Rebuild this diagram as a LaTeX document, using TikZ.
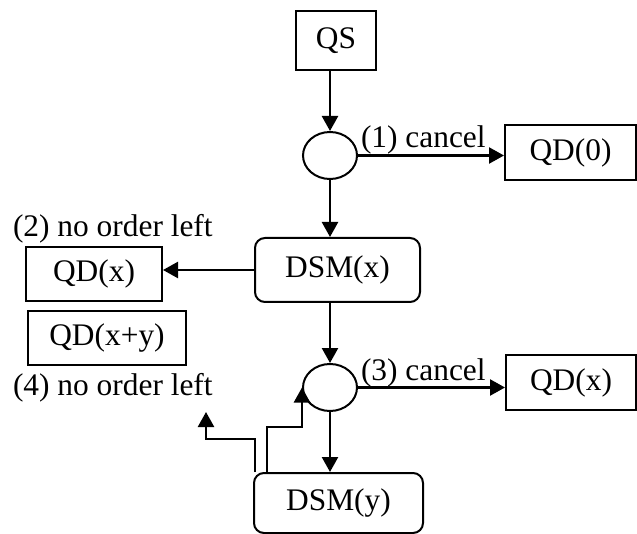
\documentclass[tikz,border=0pt]{standalone}
\usepackage{fontspec}
\setmainfont{Liberation Serif}
\usetikzlibrary{arrows.meta, shapes.geometric}

\begin{document}
\begin{tikzpicture}[
    x=0.5pt, y=-0.5pt,
    >={Triangle[length=7.5pt, width=8pt]},
    line width=1pt,
    font=\fontsize{15.7}{18}\selectfont,
    qbox/.style={rectangle, draw, inner sep=0pt},
    dsm/.style={rectangle, draw, rounded corners=5pt, inner sep=0pt},
    split/.style={ellipse, draw, minimum width=27pt, minimum height=23.5pt, inner sep=0pt},
    note/.style={anchor=base west, inner sep=0pt},
    flow/.style={->, line width=1.2pt}
]
    \useasboundingbox (0,0) rectangle (637,534);

    % --- Upper branch ---
    \node[qbox, minimum width=40pt, minimum height=29.5pt] (qs) at (336,40.5) {QS};
    \node[split] (dec1) at (330,155.5) {};
    \node[qbox, minimum width=65.5pt, minimum height=27.5pt] (qd0) at (570.5,152.5) {QD(0)};
    \node[dsm, minimum width=82.5pt, minimum height=32pt] (dsmx) at (337.5,270) {DSM(x)};

    \draw[flow] (qs.south -| dec1) -- (dec1);
    \draw[flow] (dec1) -- (dec1 -| qd0.west);        % cancel
    \draw[flow] (dec1) -- (dec1 |- dsmx.north);

    \node[note] (lbl1) at (360,148) {(1) cancel};

    % --- Left side results ---
    \node[qbox, minimum width=68pt, minimum height=27pt] (qdx) at (94,274) {QD(x)};
    \node[qbox, minimum width=79pt, minimum height=27pt] (qdxy) at (107,338) {QD(x+y)};
    \node[note] (lbl2) at (12,237) {(2) no order left};
    \node[note] (lbl4) at (12,395) {(4) no order left};

    \draw[flow] (dsmx.west) -- (dsmx.west -| qdx.east);   % nothing left

    % --- Lower branch ---
    \node[split] (dec2) at (330,387.5) {};
    \node[qbox, minimum width=65pt, minimum height=27.5pt] (qdx2) at (571,382.5) {QD(x)};
    \node[dsm, minimum width=84.5pt, minimum height=30pt] (dsmy) at (338.5,503) {DSM(y)};
    \node[note] (lbl3) at (360,380) {(3) cancel};

    \draw[flow] (dsmx.south -| dec2) -- (dec2);
    \draw[flow] (dec2) -- (dec2 -| qdx2.west);
    \draw[flow] (dec2) -- (dec2 |- dsmy.north);

    % feedback from DSM(y)
    \coordinate (out4) at (206,412);
    \draw[flow] ([xshift=7pt]dsmy.north west) -- ++(0,-45) -| (dec2.west);
    \draw[flow] ([xshift=1pt]dsmy.north west) -- ++(0,-33) -| (out4);

\end{tikzpicture}
\end{document}
